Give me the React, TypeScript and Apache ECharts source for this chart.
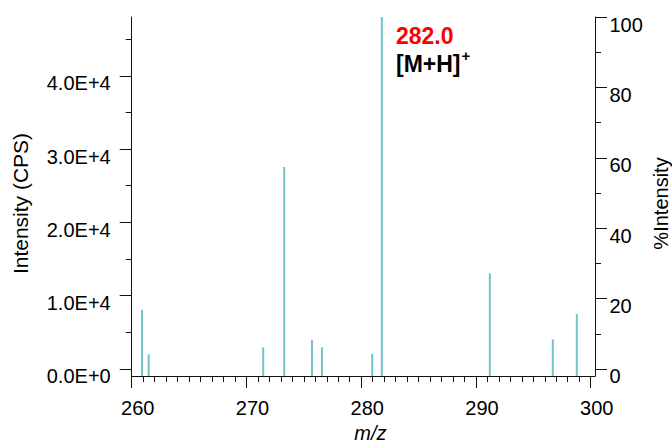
import { useEffect, useRef } from 'react';
import * as echarts from 'echarts';

// Peak positions (m/z) and intensities (CPS)
const MZ = [260.9, 261.48, 271.46, 273.29, 275.71, 276.58, 280.96, 281.8, 291.21, 296.7, 298.79];
const CPS = [8050, 2000, 2960, 27560, 3960, 2960, 2050, 48020, 13060, 4050, 7500];

// Axis ticks / labels
const X_MAJOR = [260, 270, 280, 290, 300];
const X_MINOR = [
  261, 262, 263, 264, 265, 266, 267, 268, 269,
  271, 272, 273, 274, 275, 276, 277, 278, 279,
  281, 282, 283, 284, 285, 286, 287, 288, 289,
  291, 292, 293, 294, 295, 296, 297, 298, 299,
];
const Y_MAJOR = [0, 10000, 20000, 30000, 40000];
const Y_LABELS = ['0.0E+0', '1.0E+4', '2.0E+4', '3.0E+4', '4.0E+4'];
const Y_MINOR = [5000, 15000, 25000, 35000, 45000];
const P_MAJOR = [0, 20, 40, 60, 80, 100];
const P_MINOR = [10, 30, 50, 70, 90];

const X_MIN = 260;
const X_MAX = 300.375;
const Y_MIN = -955;
const Y_MAX = 48020;
const P_MIN = -1.99;
const P_MAX = 100;

const FONT = '"Liberation Sans", Arial, Helvetica, sans-serif';
const AX = '#111';
const PEAK = '#72c3c9';

export default function App() {
  const ref = useRef<HTMLDivElement>(null);

  useEffect(() => {
    if (!ref.current) return;
    const chart = echarts.init(ref.current, null, { renderer: 'svg' });

    const labelStyle = { fontSize: 20, color: '#000', fontFamily: FONT };
    const nameStyle = { fontSize: 21, color: '#000', fontFamily: FONT };

    const option: any = {
      animation: false,
      backgroundColor: '#fff',
      grid: { left: 131.7, right: 77, top: 17, bottom: 67, containLabel: false, outerBoundsMode: 'none' },
      xAxis: [
        {
          type: 'value', min: X_MIN, max: X_MAX, position: 'bottom',
          axisLine: { show: true, onZero: false, lineStyle: { color: AX, width: 1 } },
          axisTick: { show: true, customValues: X_MAJOR, length: 12, lineStyle: { color: AX, width: 1 } },
          axisLabel: { show: true, customValues: X_MAJOR, margin: 21.5, padding: [0, 0, 0, 12], ...labelStyle },
          splitLine: { show: false },
          name: 'm/z', nameLocation: 'middle', nameGap: 47, nameMoveOverlap: false,
          nameTextStyle: { ...labelStyle, fontStyle: 'italic', padding: [0, 0, 0, 14] },
        },
        {
          type: 'value', min: X_MIN, max: X_MAX, position: 'bottom',
          axisLine: { show: false, onZero: false },
          axisTick: { show: true, customValues: X_MINOR, length: 6, lineStyle: { color: AX, width: 1 } },
          axisLabel: { show: false },
          splitLine: { show: false },
        },
      ],
      yAxis: [
        {
          type: 'value', min: Y_MIN, max: Y_MAX, position: 'left',
          axisLine: { show: true, onZero: false, lineStyle: { color: AX, width: 1 } },
          axisTick: { show: true, customValues: Y_MAJOR, length: 12, lineStyle: { color: AX, width: 1 } },
          axisLabel: {
            show: true, customValues: Y_MAJOR, margin: 21, verticalAlign: 'top', lineHeight: 15, ...labelStyle,
            formatter: (v: number) => {
              const i = Y_MAJOR.indexOf(v);
              return i >= 0 ? Y_LABELS[i] : '';
            },
          },
          splitLine: { show: false },
          name: 'Intensity (CPS)', nameLocation: 'middle', nameGap: 101, nameRotate: 90, nameMoveOverlap: false,
          nameTextStyle: { ...nameStyle, padding: [0, 14, 0, 0] },
        },
        {
          type: 'value', min: Y_MIN, max: Y_MAX, position: 'left',
          axisLine: { show: false, onZero: false },
          axisTick: { show: true, customValues: Y_MINOR, length: 6, lineStyle: { color: AX, width: 1 } },
          axisLabel: { show: false },
          splitLine: { show: false },
        },
        {
          type: 'value', min: P_MIN, max: P_MAX, position: 'right',
          axisLine: { show: true, onZero: false, lineStyle: { color: AX, width: 1 } },
          axisTick: { show: true, customValues: P_MAJOR, length: 12, lineStyle: { color: AX, width: 1 } },
          axisLabel: { show: true, customValues: P_MAJOR, margin: 14.5, verticalAlign: 'top', lineHeight: 15, ...labelStyle },
          splitLine: { show: false },
          name: '%Intensity', nameLocation: 'middle', nameGap: 56, nameRotate: 90, nameMoveOverlap: false,
          nameTextStyle: { ...labelStyle, padding: [0, 14, 0, 0] },
        },
        {
          type: 'value', min: P_MIN, max: P_MAX, position: 'right',
          axisLine: { show: false, onZero: false },
          axisTick: { show: true, customValues: P_MINOR, length: 6, lineStyle: { color: AX, width: 1 } },
          axisLabel: { show: false },
          splitLine: { show: false },
        },
      ],
      series: [
        {
          type: 'custom',
          xAxisIndex: 0,
          yAxisIndex: 0,
          silent: true,
          clip: false,
          data: MZ.map((m, i) => [m, CPS[i]]),
          renderItem: (_params: any, api: any) => {
            const x = api.value(0);
            const top = api.coord([x, api.value(1)]);
            const base = api.coord([x, Y_MIN]);
            return {
              type: 'line',
              shape: { x1: base[0], y1: base[1], x2: top[0], y2: top[1] },
              style: { stroke: PEAK, lineWidth: 2 },
            };
          },
        },
      ],
      graphic: [
        {
          type: 'text', x: 396, y: 24.5, silent: true,
          style: {
            text: '282.0', fill: '#ff0000',
            font: `bold 23px ${FONT}`,
            align: 'left', verticalAlign: 'top',
          },
        },
        {
          type: 'text', x: 396, y: 52, silent: true,
          style: {
            text: '[M+H]', fill: '#000',
            font: `bold 23px ${FONT}`,
            align: 'left', verticalAlign: 'top',
          },
        },
        {
          type: 'text', x: 461.5, y: 55, silent: true,
          style: {
            text: '+', fill: '#000',
            font: `bold 15px ${FONT}`,
            align: 'left', verticalAlign: 'middle',
          },
        },
      ],
    };

    chart.setOption(option);
    return () => chart.dispose();
  }, []);

  return (
    <div
      ref={ref}
      style={{ position: 'fixed', left: 0, top: 0, width: 672, height: 443, background: '#fff' }}
    />
  );
}
